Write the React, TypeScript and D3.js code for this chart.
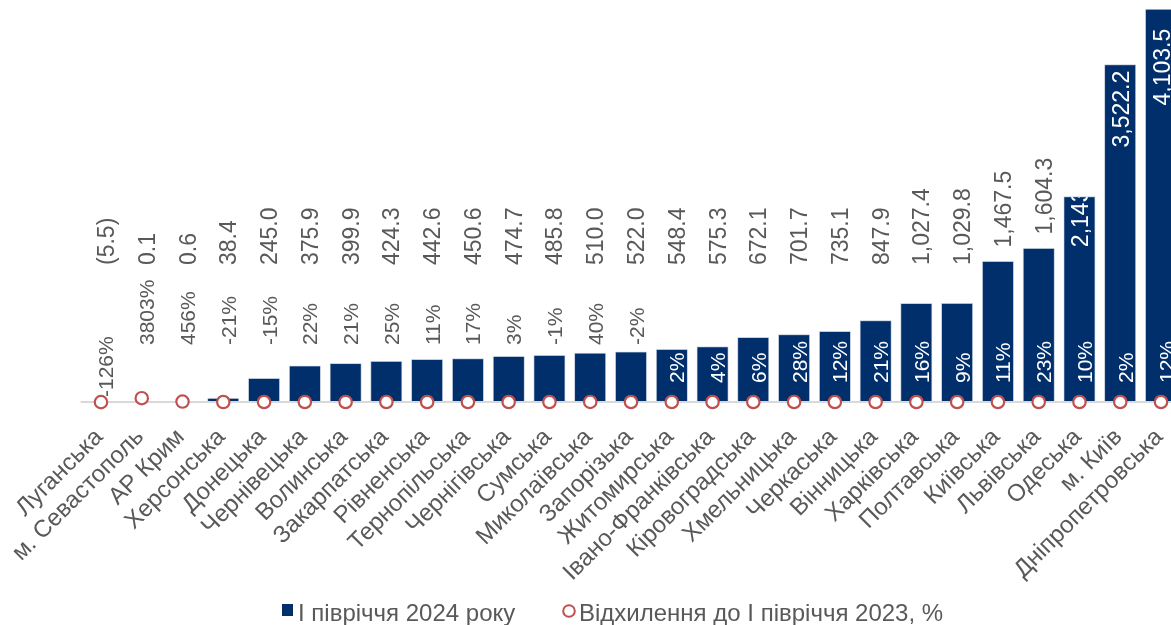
import React from 'react';
import * as d3 from 'd3';

// regions, sorted by value (I півріччя 2024 року)
const regions = [
  'Луганська', 'м. Севастополь', 'АР Крим', 'Херсонська', 'Донецька', 'Чернівецька',
  'Волинська', 'Закарпатська', 'Рівненська', 'Тернопільська', 'Чернігівська', 'Сумська',
  'Миколаївська', 'Запорізька', 'Житомирська', 'Івано-Франківська', 'Кіровоградська',
  'Хмельницька', 'Черкаська', 'Вінницька', 'Харківська', 'Полтавська', 'Київська',
  'Львівська', 'Одеська', 'м. Київ', 'Дніпропетровська',
];
const values2024 = [
  -5.5, 0.1, 0.6, 38.4, 245.0, 375.9, 399.9, 424.3, 442.6, 450.6, 474.7, 485.8, 510.0,
  522.0, 548.4, 575.3, 672.1, 701.7, 735.1, 847.9, 1027.4, 1029.8, 1467.5, 1604.3,
  2143.0, 3522.2, 4103.5,
];
// відхилення до I півріччя 2023, %
const changePct = [
  -126, 3803, 456, -21, -15, 22, 21, 25, 11, 17, 3, -1, 40, -2, 2, 4, 6, 28, 12, 21, 16,
  9, 11, 23, 10, 2, 12,
];
const legendLabels = ['І півріччя 2024 року', 'Відхилення до І півріччя 2023, %'];

const W = 1171;
const H = 625;
const BAR = '#002f6c';
const RED = '#c0504d';
const TXT = '#595959';
const FONT = '"Liberation Sans", Arial, sans-serif';

const fmt = d3.format(',.1f');
const fmtVal = (v: number) => (v < 0 ? '(' + fmt(-v) + ')' : fmt(v));

export default function App() {
  const x = d3.scaleBand<string>()
    .domain(regions)
    .range([80.6, 1181.4])
    .paddingInner(0.24)
    .paddingOuter(0.12);
  const y = d3.scaleLinear().domain([0, 4200]).range([402, 0]);
  // secondary axis for the % series (practically flat)
  const y2 = d3.scaleLinear().domain([0, 400000]).range([402, 0]);

  const bw = x.bandwidth();
  const cx = (r: string) => (x(r) as number) + bw / 2;
  const base = y(0);

  return (
    <div style={{ position: 'fixed', left: 0, top: 0 }}>
      <svg width={W} height={H} style={{ display: 'block', fontFamily: FONT }}>
        <defs>
          {regions.map((r, i) => (
            <clipPath id={'clip' + i} key={r}>
              <rect
                x={x(r)}
                y={Math.min(y(values2024[i]), base)}
                width={bw}
                height={Math.abs(base - y(values2024[i]))}
              />
            </clipPath>
          ))}
        </defs>

        {/* bars */}
        {regions.map((r, i) => {
          const v = values2024[i];
          return (
            <rect
              key={r}
              x={x(r)}
              y={Math.min(y(v), base)}
              width={bw}
              height={Math.max(0.8, Math.abs(base - y(v)))}
              fill={BAR}
              stroke="#d6dfec"
              strokeWidth={0.6}
            />
          );
        })}

        {/* zero line */}
        <line x1={80.6} x2={W} y1={base} y2={base} stroke="#d9d9d9" strokeWidth={2} />

        {/* value labels */}
        {regions.map((r, i) => {
          const v = values2024[i];
          const inside = v > 2000;
          if (inside) {
            const ys = y(v * 0.755);
            const xs = cx(r) + 9;
            return (
              <g key={r} clipPath={`url(#clip${i})`}>
                <text
                  transform={`translate(${xs},${ys}) rotate(-90)`}
                  fontSize={23}
                  fill="#ffffff"
                >
                  {fmtVal(v)}
                </text>
              </g>
            );
          }
          const ys = Math.min(265, y(v) - 14);
          const xs = cx(r) + 13;
          return (
            <text
              key={r}
              transform={`translate(${xs},${ys}) rotate(-90)`}
              fontSize={23}
              fill={TXT}
            >
              {fmtVal(v)}
            </text>
          );
        })}

        {/* % labels */}
        {regions.map((r, i) => {
          const v = values2024[i];
          const inside = base - y(v) > 50;
          const ys = inside ? base - 19 : v < 0 ? base - 5 : 345;
          const xs = cx(r) + 12.5;
          return (
            <text
              key={r}
              transform={`translate(${xs},${ys}) rotate(-90)`}
              fontSize={21}
              fill={inside ? '#ffffff' : TXT}
            >
              {changePct[i] + '%'}
            </text>
          );
        })}

        {/* % markers */}
        {regions.map((r, i) => (
          <circle
            key={r}
            cx={cx(r)}
            cy={y2(changePct[i])}
            r={6.2}
            fill="#ffffff"
            stroke={RED}
            strokeWidth={2.2}
          />
        ))}

        {/* category labels */}
        {regions.map((r) => (
          <text
            key={r}
            transform={`translate(${cx(r) + 3},${base + 36}) rotate(-45)`}
            textAnchor="end"
            fontSize={24}
            fill={TXT}
          >
            {r}
          </text>
        ))}

        {/* legend */}
        <rect x={282} y={604} width={11} height={12} fill={BAR} />
        <text x={298} y={621} fontSize={24} fill={TXT}>{legendLabels[0]}</text>
        <circle cx={569} cy={611} r={5.8} fill="#ffffff" stroke={RED} strokeWidth={2} />
        <text x={579} y={621} fontSize={24} fill={TXT}>{legendLabels[1]}</text>
      </svg>
    </div>
  );
}
